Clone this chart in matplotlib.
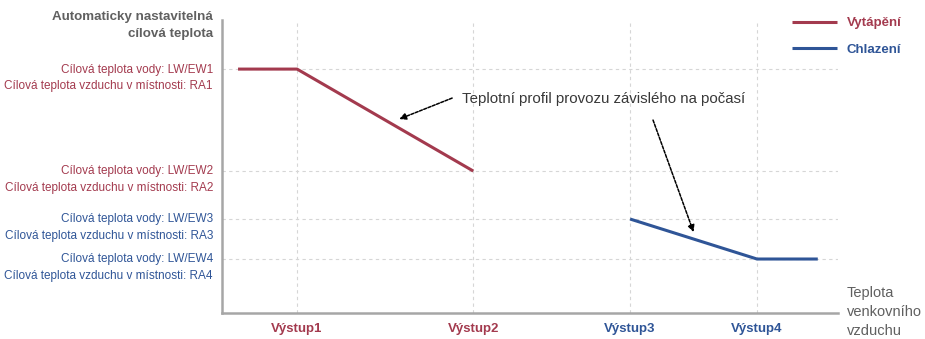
import matplotlib.pyplot as plt
from matplotlib.transforms import blended_transform_factory

# data (outdoor air temperature in arbitrary units, target temperature in arbitrary units)
x_ticks = [1.0, 2.0, 2.89, 3.61]
x_labels = ["Výstup1", "Výstup2", "Výstup3", "Výstup4"]
x_label_colors = ["heat", "heat", "cool", "cool"]

heat_x = [0.665, 1.0, 2.0]
heat_y = [24.4, 24.4, 14.2]
cool_x = [2.89, 3.61, 3.955]
cool_y = [9.4, 5.4, 5.4]

y_ticks = [24.4, 14.2, 9.4, 5.4]
y_labels = [
    "Cílová teplota vody: LW/EW1\nCílová teplota vzduchu v místnosti: RA1",
    "Cílová teplota vody: LW/EW2\nCílová teplota vzduchu v místnosti: RA2",
    "Cílová teplota vody: LW/EW3\nCílová teplota vzduchu v místnosti: RA3",
    "Cílová teplota vody: LW/EW4\nCílová teplota vzduchu v místnosti: RA4",
]
y_label_colors = ["heat", "heat", "cool", "cool"]

colors = {"heat": "#a33a4e", "cool": "#2f5597"}
grey = "#606060"

plt.rcParams['font.family'] = ['Liberation Sans', 'DejaVu Sans']

fig = plt.figure(figsize=(9.25, 3.39), dpi=100)
ax = fig.add_axes([0.24, 0.0767, 0.666, 0.864])

ax.plot(heat_x, heat_y, color=colors["heat"], lw=2.2, label="Vytápění", solid_capstyle='butt')
ax.plot(cool_x, cool_y, color=colors["cool"], lw=2.2, label="Chlazení", solid_capstyle='butt')

ax.set_xlim(0.574, 4.07)
ax.set_ylim(0, 29.3)

# grid
for xv in x_ticks:
    ax.axvline(xv, color="#d6d6d6", lw=0.8, ls=(0, (3, 3)), zorder=0)
for yv in y_ticks:
    ax.axhline(yv, color="#d6d6d6", lw=0.8, ls=(0, (3, 3)), zorder=0)

for s in ["top", "right"]:
    ax.spines[s].set_visible(False)
for s in ["left", "bottom"]:
    ax.spines[s].set_color("#a6a6a6")
    ax.spines[s].set_linewidth(1.8)

ax.set_xticks(x_ticks, x_labels, fontsize=9.5, fontweight='bold')
for lbl, c in zip(ax.get_xticklabels(), x_label_colors):
    lbl.set_color(colors[c])
ax.tick_params(axis='x', length=0, pad=7)
ax.set_yticks([])

# y labels, first line on the grid line
trans = blended_transform_factory(ax.transAxes, ax.transData)
for yv, txt, c in zip(y_ticks, y_labels, y_label_colors):
    ax.annotate(txt, xy=(0, yv), xycoords=trans, xytext=(-6.5, 4), textcoords='offset points',
                ha='right', va='top', multialignment='right', fontsize=8.5,
                color=colors[c], linespacing=1.55, annotation_clip=False)

fig.text(213 / 925, 1 - 11 / 339, "Automaticky nastavitelná\ncílová teplota", ha='right', va='top',
         fontsize=9.6, color=grey, linespacing=1.55, fontweight='bold')
fig.text(847 / 925, 1 - 312 / 339, "Teplota\nvenkovního\nvzduchu", ha='left', va='center',
         fontsize=10.5, color=grey, linespacing=1.45)

# annotation text and arrows
ax.text(1.935, 21.4, "Teplotní profil provozu závislého na počasí", ha='left', va='center',
        fontsize=10.8, color="#383838")
ax.annotate("", xy=(1.58, 19.4), xytext=(1.88, 21.5),
            arrowprops=dict(arrowstyle='-|>', color='black', lw=1.1, ls=(0, (2, 1)),
                            shrinkA=0, shrinkB=0, mutation_scale=10))
ax.annotate("", xy=(3.25, 8.1), xytext=(3.02, 19.3),
            arrowprops=dict(arrowstyle='-|>', color='black', lw=1.1, ls=(0, (2, 1)),
                            shrinkA=0, shrinkB=0, mutation_scale=10))

leg = fig.legend(loc='upper left', bbox_to_anchor=(792 / 925, 1 - 17 / 339), frameon=False,
                 fontsize=9.5, handlelength=3.4, handletextpad=0.75, labelspacing=1.1,
                 borderpad=0, borderaxespad=0, labelcolor='linecolor')
for t in leg.get_texts():
    t.set_fontweight('bold')

fig.savefig("out.png", dpi=100)
